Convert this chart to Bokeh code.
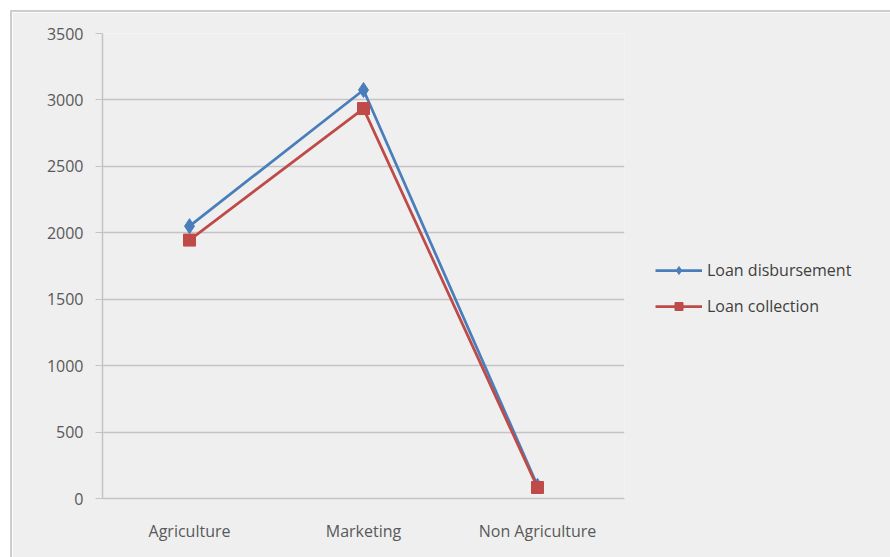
from bokeh.plotting import figure
from bokeh.models import Legend, LegendItem, FixedTicker, Range1d
from bokeh.embed import file_html
from bokeh.resources import INLINE

categories = ["Agriculture", "Marketing", "Non Agriculture"]
loan_disbursement = [2050, 3075, 95]
loan_collection = [1945, 2935, 83]
y_ticks = [0, 500, 1000, 1500, 2000, 2500, 3000, 3500]

FONT = "Open Sans"
BG = "#efefef"

p = figure(x_range=categories, y_range=Range1d(0, 3500),
           frame_width=522, frame_height=465, output_backend="svg", toolbar_location=None,
           min_border_left=90, min_border_right=0, min_border_top=21, min_border_bottom=59)
p.styles = {"margin-left": "10px", "margin-top": "10px",
            "border-left": "2px solid #cdcdcd", "border-top": "2px solid #cdcdcd"}
p.background_fill_color = BG
p.border_fill_color = BG
p.outline_line_color = None

p.xgrid.grid_line_color = None
p.ygrid.grid_line_color = "#c4c4c4"
p.ygrid.grid_line_width = 1.5

p.yaxis.ticker = FixedTicker(ticks=y_ticks)
for ax in (p.xaxis, p.yaxis):
    ax.axis_line_color = "#c4c4c4"
    ax.axis_line_width = 1.5
    ax.major_label_text_font = FONT
    ax.major_label_text_font_size = "16px"
    ax.major_label_text_color = "#595959"
    ax.minor_tick_line_color = None
p.yaxis.major_tick_line_color = "#c4c4c4"
p.yaxis.major_tick_out = 7
p.yaxis.major_tick_in = 0
p.yaxis.major_label_standoff = 12
p.xaxis.major_tick_line_color = None
p.xaxis.major_label_standoff = 15

blue = "#4a7ebb"
red = "#be4b48"

l1 = p.line(categories, loan_disbursement, line_color=blue, line_width=2.75)
m1 = p.scatter(categories, loan_disbursement, marker="diamond", size=15,
               fill_color=blue, line_color=blue)
l2 = p.line(categories, loan_collection, line_color=red, line_width=2.75)
m2 = p.scatter(categories, loan_collection, marker="square", size=12,
               fill_color=red, line_color=red)

legend = Legend(items=[LegendItem(label="Loan disbursement", renderers=[l1, m1]),
                       LegendItem(label="Loan collection", renderers=[l2, m2])],
                location=(31, 181))
legend.margin = 0
legend.padding = 0
legend.background_fill_alpha = 0
legend.border_line_color = None
legend.label_text_font = FONT
legend.label_text_font_size = "16px"
legend.label_text_color = "#404040"
legend.glyph_width = 47
legend.glyph_height = 20
legend.label_standoff = 5
legend.spacing = 14
p.add_layout(legend, "right")

open("out.html", "w").write(file_html(p, INLINE))
